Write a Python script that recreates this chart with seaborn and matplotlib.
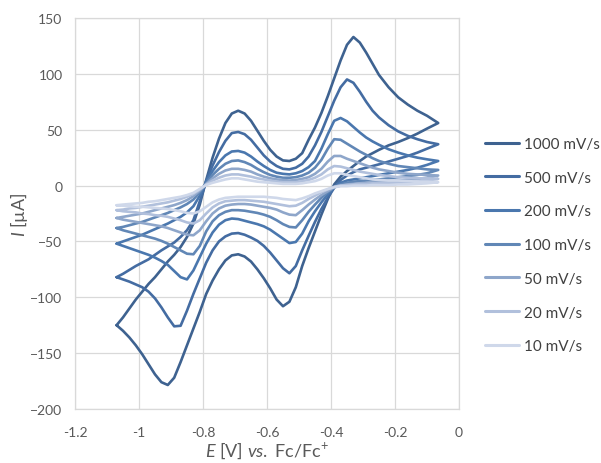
import matplotlib
matplotlib.use("Agg")
import matplotlib.pyplot as plt
import seaborn as sns
import pandas as pd

# Potential grid (V vs Fc/Fc+) shared by all branches
E = [-1.07, -1.05, -1.03, -1.01, -0.99, -0.97, -0.95, -0.93, -0.91, -0.89,
     -0.87, -0.85, -0.83, -0.81, -0.79, -0.77, -0.75, -0.73, -0.71, -0.69,
     -0.67, -0.65, -0.63, -0.61, -0.59, -0.57, -0.55, -0.53, -0.51, -0.49,
     -0.47, -0.45, -0.43, -0.41, -0.39, -0.37, -0.35, -0.33, -0.31, -0.29,
     -0.27, -0.25, -0.22, -0.19, -0.16, -0.13, -0.10, -0.065]

labels = ["1000 mV/s", "500 mV/s", "200 mV/s", "100 mV/s", "50 mV/s", "20 mV/s", "10 mV/s"]
colors = ["#3e6290", "#446ca2", "#4a77ae", "#6187b6", "#8ea6ca", "#b1c0dc", "#cfd8ea"]

# forward (anodic) branches, current in uA at each E
fwd_1000 = [-125, -118, -110, -102, -95, -88, -82, -75, -68, -62,
            -55, -46, -34, -17, 5, 25, 42, 56, 64.5, 67,
            64.5, 58, 49, 40, 32, 26, 22.5, 22, 24, 29,
            41, 52, 65, 80, 96, 112, 126, 133, 128, 119,
            109, 99, 88, 79, 72.5, 67, 62.5, 56]
fwd_500 = [-82, -79, -75.5, -72, -69, -66, -62, -58, -54.5, -51,
           -46, -40, -31, -14, 4, 18, 30, 40, 47, 48,
           46, 41, 34, 27, 21.5, 17.5, 15, 14.5, 16, 19.5,
           26, 36, 48, 62, 76, 88, 95, 92, 84, 75,
           67, 61, 54, 48.5, 44.5, 41.5, 39, 37]
fwd_200 = [-52, -50, -48, -46, -44, -41.5, -39, -36.5, -34, -31,
           -28, -24, -18.5, -9, 3.5, 13, 21, 27, 30.5, 31,
           29.5, 26, 21.5, 17.5, 14, 11.5, 10.5, 10, 11, 13,
           16.5, 22, 33, 46, 58, 60.5, 57.5, 52.5, 47.5, 43,
           39.5, 36.5, 32.5, 29.5, 27, 25, 23.5, 22]
fwd_100 = [-38, -37, -35.5, -34, -32.5, -30.5, -28.5, -26.5, -24.5, -22,
           -19.5, -16.5, -12.5, -6, 2, 9.5, 15, 19.5, 22, 22.5,
           21, 18.5, 15, 12, 9.5, 8, 7, 7, 7.5, 9,
           11.5, 16, 23, 33, 41.5, 41, 37.5, 34, 30.5, 27.5,
           24.5, 22, 19.5, 17.5, 16.5, 15.5, 14.5, 14]
fwd_50 = [-29, -28, -27, -26, -25, -23.5, -22, -20.5, -19, -17.5,
          -15.5, -13, -9.5, -4.5, 1.5, 6.5, 10.5, 13.5, 15, 15,
          14, 12.5, 10, 8, 6.5, 5.5, 5, 4.5, 5, 6,
          7.5, 10.5, 15, 21.5, 26.5, 26.5, 24, 22, 20, 18,
          16, 14.5, 13, 11.5, 10.5, 10, 9.5, 9]
fwd_20 = [-22, -21.5, -20.5, -20, -19, -18, -17, -16, -15, -13.5,
          -12, -10, -7.5, -3.5, 1, 4.5, 7, 9, 10, 10,
          9, 8, 6.5, 5.5, 4.5, 3.5, 3, 3, 3, 4,
          5, 7, 10, 14.5, 17.5, 17, 15.5, 14, 12.5, 11.5,
          10.5, 9.5, 8.5, 7.5, 7, 6.5, 6.5, 6]
fwd_10 = [-17.6, -17, -16.5, -16, -15.5, -14.5, -14, -13, -12, -11,
          -10, -8.5, -6.5, -3, 0.5, 2.5, 4, 5.5, 6.5, 6.5,
          5.5, 4.5, 3.5, 3, 2.5, 2, 1.5, 1.5, 1.5, 2,
          3, 4, 6, 9, 11, 11, 9.5, 8.5, 7.5, 6.5,
          5.5, 5, 4.5, 4.5, 4, 3.5, 3.5, 3]

# reverse (cathodic) branches, listed at the same E values
rev_1000 = [-125, -130, -136, -143, -151, -160, -169, -176, -178.5, -172,
            -158, -143, -128, -113, -97, -85, -75, -67, -62.5, -61.5,
            -63.5, -68, -75, -83, -92, -102, -108, -104, -91, -72,
            -56, -41, -26, -12, 1, 8, 13, 17.5, 22, 26,
            29, 32, 36, 39, 42.5, 46.5, 51, 56]
rev_500 = [-82, -84, -86, -88.5, -91, -95, -101, -109, -118, -126,
           -125.5, -112, -97, -83, -69, -58, -50, -45.5, -43, -42.5,
           -44, -46.5, -49.5, -54, -60, -67, -74, -78.5, -72, -58,
           -45, -32.5, -21, -11, -2, 5, 9, 12, 14.5, 16,
           17.5, 19, 21.5, 24, 26.5, 29.5, 33, 37]
rev_200 = [-52, -54, -56, -58, -60, -62, -64.5, -67.5, -71, -76.5,
           -82, -84, -76, -64, -52, -42, -35, -31, -29.5, -30,
           -31.5, -33, -34.5, -36.5, -39.5, -43.5, -47.5, -51.5, -50.5, -43,
           -32, -23, -15, -8, -1.5, 2.5, 4.5, 5.5, 6.5, 7.5,
           8.5, 9.5, 11, 12.5, 14, 16, 18.5, 22]
rev_100 = [-38, -40, -41.5, -43, -44.5, -46, -47.5, -49.5, -52, -55,
           -58, -61, -61.5, -54, -41, -32, -26.5, -23.5, -22, -22,
           -22.5, -23.5, -24.5, -26, -28, -31, -34.5, -37, -37.5, -31,
           -23.5, -17, -11, -6, -1.5, 1, 2.5, 3.5, 4, 4.5,
           5, 5.5, 6.5, 7.5, 8.5, 9.5, 11, 14]
rev_50 = [-29, -30.5, -31.5, -32.5, -33.5, -34.5, -35.5, -36.5, -38, -40,
          -42, -44, -44.5, -40, -32, -25, -20.5, -18, -17, -16.5,
          -16.5, -17, -18, -19, -20, -21.5, -24, -26, -26.5, -22,
          -17, -12.5, -8.5, -5, -1.5, 0, 1, 1.5, 2, 2.5,
          3, 3.5, 4, 4.5, 5, 6, 7, 9]
rev_20 = [-22, -23, -23.5, -24, -25, -25.5, -26.5, -27, -28, -29.5,
          -31, -33, -34, -31, -25, -19.5, -16, -14, -13.5, -13,
          -13, -13.5, -14, -14.5, -15.5, -16.5, -17.5, -18.5, -18, -15.5,
          -12, -9, -6, -3.5, -1, 0, 0.5, 1, 1.5, 1.5,
          2, 2, 2.5, 2.5, 3, 3.5, 4.5, 6]
rev_10 = [-17.6, -18, -18.5, -19, -19, -19.5, -20, -20.5, -21, -22,
          -23, -24.5, -25, -23, -19, -15, -12.5, -11, -10.5, -10,
          -10, -10, -10, -10, -10.5, -11, -12, -12.5, -13, -11.5,
          -9.5, -7, -5, -3, -1.5, -0.5, -0.5, 0, 0, 0,
          0.5, 0.5, 0.5, 1, 1, 1.5, 2, 3]

fwd = [fwd_1000, fwd_500, fwd_200, fwd_100, fwd_50, fwd_20, fwd_10]
rev = [rev_1000, rev_500, rev_200, rev_100, rev_50, rev_20, rev_10]

rows = []
for lab, f, r in zip(labels, fwd, rev):
    k = 0
    for e, i in zip(E, f):
        rows.append((lab, k, e, i)); k += 1
    for e, i in zip(E[::-1], r[::-1]):
        rows.append((lab, k, e, i)); k += 1
df = pd.DataFrame(rows, columns=["rate", "step", "E", "I"])

sns.set_theme(style="white")
plt.rcParams["font.family"] = ["Lato", "DejaVu Sans"]
plt.rcParams["mathtext.fontset"] = "custom"
plt.rcParams["mathtext.rm"] = "Lato"
plt.rcParams["mathtext.it"] = "Lato:italic"

fig = plt.figure(figsize=(6.01, 4.64), dpi=100)
ax = fig.add_axes([75 / 601, 54 / 464, 384 / 601, 391 / 464])

sns.lineplot(data=df, x="E", y="I", hue="rate", hue_order=labels,
             palette=dict(zip(labels, colors)), sort=False, estimator=None,
             units="rate", linewidth=1.9, ax=ax, legend=True)
for ln in ax.get_lines():
    ln.set_solid_joinstyle("round")

ax.set_xlim(-1.2, 0)
ax.set_ylim(-200, 150)
xt = [-1.2, -1.0, -0.8, -0.6, -0.4, -0.2, 0.0]
ax.set_xticks(xt)
ax.set_xticklabels(["-1.2", "-1", "-0.8", "-0.6", "-0.4", "-0.2", "0"])
ax.set_yticks(list(range(-200, 151, 50)))
ax.tick_params(length=0, labelsize=10, labelcolor="#595959")
ax.tick_params(axis="y", pad=9)
ax.tick_params(axis="x", pad=12)
ax.grid(True, color="#d9d9d9", linewidth=0.9)
for s in ax.spines.values():
    s.set_color("#d9d9d9")
    s.set_linewidth(0.9)

ax.set_xlabel(r"$E$ [V] $vs.$ Fc/Fc$^{+}$", fontsize=13, color="#595959")
ax.set_ylabel(r"$I$ [µA]", fontsize=13, color="#595959")
ax.xaxis.set_label_coords(0.5, -0.078)
ax.yaxis.set_label_coords(-0.117, 0.5)

handles, labs = ax.get_legend_handles_labels()
ax.get_legend().remove()
leg = fig.legend(handles, labs, loc="upper left", bbox_to_anchor=(485 / 601, (464 - 138) / 464),
                 frameon=False, fontsize=11, handlelength=2.2, handletextpad=0.35,
                 labelspacing=1.29, borderpad=0, borderaxespad=0)
for t in leg.get_texts():
    t.set_color("#404040")
for h in leg.get_lines():
    h.set_linewidth(2.2)

fig.savefig("out.png", dpi=100)
